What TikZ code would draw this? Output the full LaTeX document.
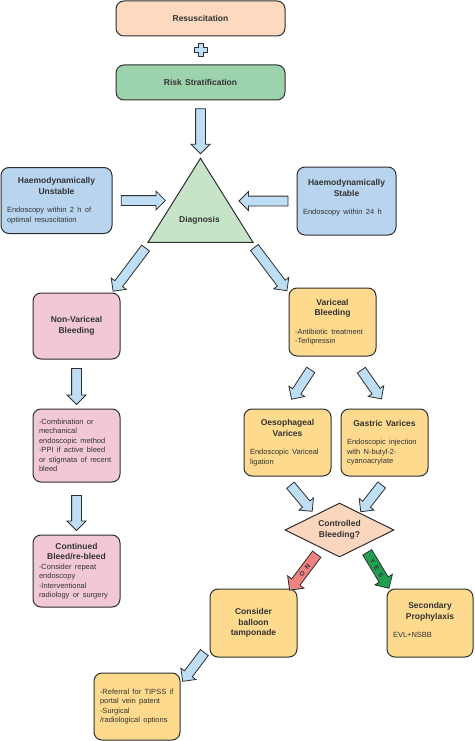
\documentclass[tikz,border=0pt]{standalone}
\usepackage{fontspec}
\setmainfont{Liberation Sans}
\usetikzlibrary{positioning,shapes.geometric,shapes.arrows,calc}
\definecolor{edge}{HTML}{2E2E2E}
\definecolor{ink}{HTML}{333333}
\definecolor{peach}{HTML}{FCD9BF}
\definecolor{sage}{HTML}{9DD3AC}
\definecolor{trig}{HTML}{C6E4C8}
\definecolor{sky}{HTML}{B8D4EF}
\definecolor{rose}{HTML}{F2C8D8}
\definecolor{sand}{HTML}{FDDA8E}
\definecolor{blush}{HTML}{FBD6BE}
\definecolor{arrowblue}{HTML}{BEDEF6}
\definecolor{nored}{HTML}{F08282}
\definecolor{yesgreen}{HTML}{1FA050}
\setlength{\parindent}{0pt}
\newcommand{\hd}[1]{{\centering\bfseries\fontsize{8.5}{10.5}\selectfont #1\par}}
\newcommand{\bd}[1]{{\raggedright\fontsize{7.5}{9.5}\selectfont #1\par}}
\tikzset{
  box/.style  ={draw=edge, line width=1pt, rounded corners=8pt, inner xsep=6pt, inner ysep=4pt, text=ink},
  boxo/.style ={box, fill=peach},
  boxg/.style ={box, fill=sage},
  boxb/.style ={box, fill=sky},
  boxp/.style ={box, fill=rose},
  boxy/.style ={box, fill=sand},
  tri/.style  ={isosceles triangle, isosceles triangle stretches, shape border rotate=90,
                minimum width=105pt, minimum height=84pt, inner sep=0pt,
                draw=edge, line width=1pt, fill=trig},
  dia/.style  ={diamond, aspect=2, minimum width=109pt, minimum height=54pt, inner sep=0pt,
                draw=edge, line width=1pt, fill=blush, text=ink, align=center,
                font=\bfseries\fontsize{8.5}{10.5}\selectfont},
  fat/.style  ={single arrow, draw=edge, line width=.8pt, fill=arrowblue, inner sep=4.5pt,
                single arrow head extend=4.5pt, single arrow tip angle=90, minimum width=0pt},
  fatno/.style ={fat, fill=nored, inner sep=2.5pt, single arrow head extend=5pt,
                 font=\bfseries\fontsize{6.5}{6.5}\selectfont, text=ink},
  fatyes/.style={fat, fill=yesgreen, inner sep=2.5pt, single arrow head extend=5pt,
                 font=\bfseries\fontsize{6.5}{6.5}\selectfont, text=ink},
  plus/.style ={draw=edge, line width=.8pt, fill=arrowblue, line join=round},
}
\begin{document}
\begin{tikzpicture}[x=1pt,y=-1pt]
  \useasboundingbox (0,0) rectangle (474,741);
  % top
  \node[boxo,text width=157pt,minimum height=35pt] (res) at (200.5,18.5) {\hd{Resuscitation}};
  \draw[plus] (200.5,50) +(-2.5,-6.5) -- +(2.5,-6.5) -- +(2.5,-2.5) -- +(6.5,-2.5) -- +(6.5,2.5)
    -- +(2.5,2.5) -- +(2.5,6.5) -- +(-2.5,6.5) -- +(-2.5,2.5) -- +(-6.5,2.5) -- +(-6.5,-2.5)
    -- +(-2.5,-2.5) -- cycle;
  \node[boxg,text width=157pt,minimum height=35pt] (risk) at (200.5,82.5) {\hd{Risk Stratification}};
  % diagnosis
  \node[tri,anchor=apex] (diag) at (200.5,157) {};
  \node[text=ink,font=\bfseries\fontsize{8.5}{10.5}\selectfont] (diaglbl) at (199.5,220) {Diagnosis};
  \node[boxb,text width=99pt,minimum height=66pt] (unst) at (56.5,200.5)
    {\hd{Haemodynamically\\Unstable}\vspace{9pt}\bd{Endoscopy within 2 h of\\optimal resuscitation}};
  \node[boxb,text width=87pt,minimum height=68pt] (stab) at (346.5,201)
    {\hd{Haemodynamically\\Stable}\vspace{9pt}\bd{Endoscopy within 24 h}\vspace{6pt}};
  % left branch
  \node[boxp,text width=75pt,minimum height=66pt] (nonvar) at (76.5,326) {\hd{Non-Variceal\\Bleeding}};
  \node[boxp,text width=75pt,minimum height=73pt] (comb) at (76.5,445.5)
    {\bd{-Combination or\\mechanical\\endoscopic method\\-PPI if active bleed\\or stigmata of recent\\bleed}};
  \node[boxp,text width=75pt,minimum height=72pt] (cont) at (76.5,571)
    {\hd{Continued\\Bleed/re-bleed}\bd{-Consider repeat\\endoscopy\\-Interventional\\radiology or surgery}};
  % right branch
  \node[boxy,text width=75pt,minimum height=68pt] (var) at (332.5,322)
    {\hd{Variceal\\Bleeding}\vspace{9pt}\bd{-Antibiotic treatment\\-Terlipressin}};
  \node[boxy,text width=75pt,minimum height=67pt] (oeso) at (287.5,442.5)
    {\hd{Oesophageal\\Varices}\vspace{9pt}\bd{Endoscopic Variceal\\ligation}};
  \node[boxy,text width=75pt,minimum height=67pt] (gas) at (384.5,442.5)
    {\hd{Gastric Varices}\vspace{9pt}\bd{Endoscopic injection\\with N-butyl-2-\\cyanoacrylate}};
  \node[dia] (ctrl) at (339.5,530) {Controlled\\Bleeding?};
  \node[boxy,text width=75pt,minimum height=68pt] (bal) at (253.5,623) {\hd{Consider\\balloon\\tamponade}};
  \node[boxy,text width=74pt,minimum height=68pt] (sec) at (430,623)
    {\hd{Secondary\\Prophylaxis}\vspace{9pt}\bd{EVL+NSBB}\vspace{6pt}};
  \node[boxy,text width=74pt,minimum height=67pt] (ref) at (137,706.5)
    {\bd{-Referral for TIPSS if\\portal vein patent\\-Surgical\\/radiological options}};
  % block arrows
  \path (risk.south) -- node[fat,rotate=-90,minimum height=45pt] {} (diag.apex);
  \path (unst.east) -- node[fat,pos=.82,minimum height=44pt] {} (diag.left corner |- unst.east);
  \path (stab.west) -- node[fat,pos=.716,rotate=180,minimum height=49pt] {} (diag.right corner |- stab.west);
  \path (diag.left corner) -- node[fat,xshift=-3pt,rotate=-127,minimum height=54pt] {} (nonvar.north east);
  \path (diag.right corner) -- node[fat,xshift=-2pt,yshift=-2pt,rotate=-53,minimum height=54pt] {} (var.north west);
  \path (nonvar) -- node[fat,rotate=-90,minimum height=36pt] {} (comb);
  \path (comb) -- node[fat,yshift=-2pt,rotate=-90,minimum height=35pt] {} (cont);
  \path (var.south) -- node[fat,xshift=-7.5pt,rotate=-123,minimum height=35pt] {} (oeso.north);
  \path (var.south) -- node[fat,xshift=11.5pt,rotate=-55,minimum height=35pt] {} (gas.north);
  \path (oeso.south) -- node[fat,rotate=-50,minimum height=34pt] {} (ctrl.north west);
  \path (gas.south) -- node[fat,xshift=-3pt,rotate=-128,minimum height=34pt] {} (ctrl.north east);
  \path (ctrl.south west) -- node[fatno,yshift=-4pt,rotate=-127,minimum height=45pt]
    {N\hspace{4pt}O} (bal.north east);
  \path (ctrl.south east) -- node[fatyes,yshift=-2pt,rotate=-59,minimum height=42pt]
    {Y\hspace{3.5pt}E\hspace{3.5pt}S} (sec.north west);
  \path (bal.south west) -- node[fat,rotate=-127,minimum height=36pt] {} (ref.north east);
\end{tikzpicture}
\end{document}
